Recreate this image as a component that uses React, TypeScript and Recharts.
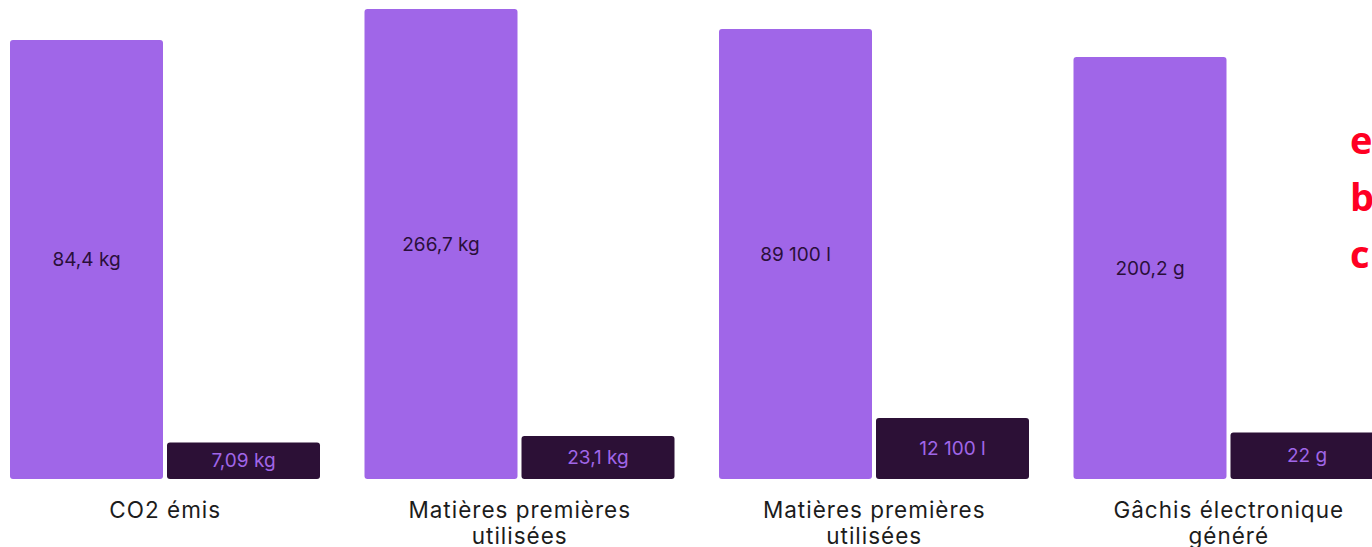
import React from 'react';
import { BarChart, Bar, XAxis, YAxis, LabelList } from 'recharts';

const categories = ['CO2 émis', 'Matières premières\nutilisées', 'Matières premières\nutilisées', 'Gâchis électronique\ngénéré'];
const beforeHeights = [439, 470, 450, 422];
const afterHeights = [36.5, 43, 61, 46.5];
const beforeLabels = ['84,4 kg', '266,7 kg', '89 100 l', '200,2 g'];
const afterLabels = ['7,09 kg', '23,1 kg', '12 100 l', '22 g'];
const sideWords = ['e', 'b', 'c'];

const data = categories.map((name, i) => ({
    name,
    before: beforeHeights[i],
    after: afterHeights[i],
    beforeLabel: beforeLabels[i],
    afterLabel: afterLabels[i],
}));

const FONT = 'Inter, "Noto Sans", sans-serif';

function CategoryTick(props: any) {
    const { x, y, payload } = props;
    const lines = String(payload.value).split('\n');
    return (
        <text x={x} y={y} textAnchor="middle" fill="#1c1c1c" fontSize={22.5} letterSpacing={1} fontFamily={FONT}>
            {lines.map((line, i) => (
                <tspan key={i} x={x} dy={i === 0 ? 31 : 26}>{line}</tspan>
            ))}
        </text>
    );
}

export default function App() {
    return (
        <div style={{ position: 'fixed', left: 0, top: 0, width: 1372, height: 547, overflow: 'hidden', background: '#fff' }}>
            <div style={{ position: 'absolute', left: -12, top: 0 }}>
                <BarChart
                    width={1418}
                    height={547}
                    data={data}
                    margin={{ top: 9, right: 0, left: 0, bottom: 0 }}
                    barSize={153}
                    barGap={4}
                >
                    <XAxis dataKey="name" axisLine={false} tickLine={false} height={68} interval={0} tick={<CategoryTick />} />
                    <YAxis hide domain={[0, 470]} />
                    <Bar dataKey="before" fill="#a066e8" radius={3} isAnimationActive={false}>
                        <LabelList dataKey="beforeLabel" position="center" fill="#2a0f3a" fontSize={19} fontFamily={FONT} />
                    </Bar>
                    <Bar dataKey="after" fill="#2c1036" radius={3} isAnimationActive={false}>
                        <LabelList dataKey="afterLabel" position="center" fill="#a066e8" fontSize={19} fontFamily={FONT} />
                    </Bar>
                </BarChart>
            </div>
            {sideWords.map((w, i) => (
                <div
                    key={i}
                    style={{
                        position: 'absolute',
                        left: 1350,
                        top: 114 + i * 57,
                        color: '#ff0022',
                        fontFamily: '"Open Sans", sans-serif',
                        fontWeight: 700,
                        fontSize: 38,
                        lineHeight: '50px',
                    }}
                >
                    {w}
                </div>
            ))}
        </div>
    );
}
